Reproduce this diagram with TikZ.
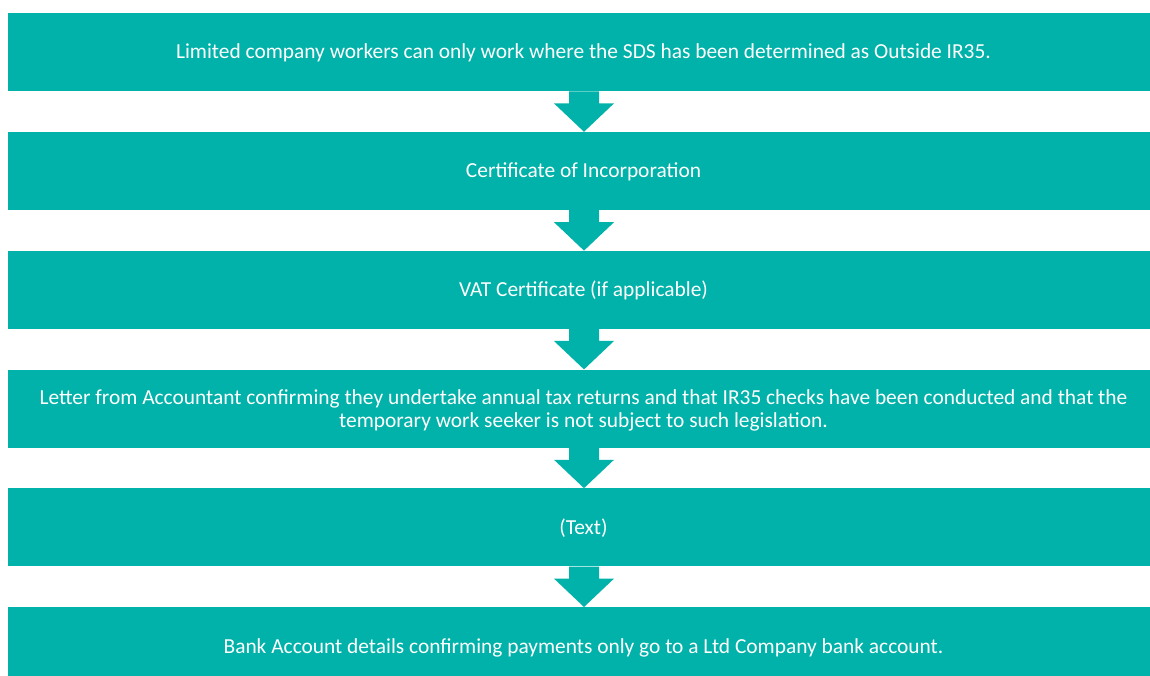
\documentclass[tikz,border=0pt]{standalone}
\usepackage{fontspec}
\setmainfont{Carlito}
\definecolor{teal1}{RGB}{0,178,169}
\tikzset{
  box/.style={fill=teal1, draw=none, minimum width=1151pt, minimum height=78pt, inner sep=0pt, anchor=north west},
  lbl/.style={text=white, font=\fontsize{21.4}{23.5}\selectfont, align=center, inner sep=0pt},
  blockarrow/.style={fill=teal1, draw=none}
}
\newcommand{\flowarrow}[2]{%
  \path[blockarrow] ([xshift=-15pt]#1.south -| 584,0) -- ([xshift=15pt]#1.south -| 584,0)
    -- ([xshift=15pt,yshift=-12pt]#1.south -| 584,0) -- ([xshift=30pt,yshift=-12pt]#1.south -| 584,0)
    -- (#2.north -| 584,0) -- ([xshift=-30pt,yshift=-12pt]#1.south -| 584,0)
    -- ([xshift=-15pt,yshift=-12pt]#1.south -| 584,0) -- cycle;}
\begin{document}
\begin{tikzpicture}[x=1pt,y=1pt]
\useasboundingbox (0,0) rectangle (1150,675);
\clip (0,0) rectangle (1150,675);
\node[box] (b1) at (8,662) {};
\node[box] (b2) at (8,543.2) {};
\node[box] (b3) at (8,424.4) {};
\node[box] (b4) at (8,305.6) {};
\node[box] (b5) at (8,186.8) {};
\node[box] (b6) at (8,68) {};
\node[lbl, anchor=base] (t1) at (583.5,616) {Limited company workers can only work where the SDS has been determined as Outside IR35.};
\node[lbl, anchor=base] (t2) at (583.5,497.2) {Certificate of Incorporation};
\node[lbl, anchor=base] (t3) at (583.5,378.4) {VAT Certificate (if applicable)};
\node[lbl] (t4) at (583.5,264.5) {Letter from Accountant confirming they undertake annual tax returns and that IR35 checks have been conducted and that the\\temporary work seeker is not subject to such legislation.};
\node[lbl, anchor=base] (t5) at (583.5,140.8) {(Text)};
\node[lbl, anchor=base] (t6) at (583.5,22) {Bank Account details confirming payments only go to a Ltd Company bank account.};
\flowarrow{b1}{b2}
\flowarrow{b2}{b3}
\flowarrow{b3}{b4}
\flowarrow{b4}{b5}
\flowarrow{b5}{b6}
\end{tikzpicture}
\end{document}
